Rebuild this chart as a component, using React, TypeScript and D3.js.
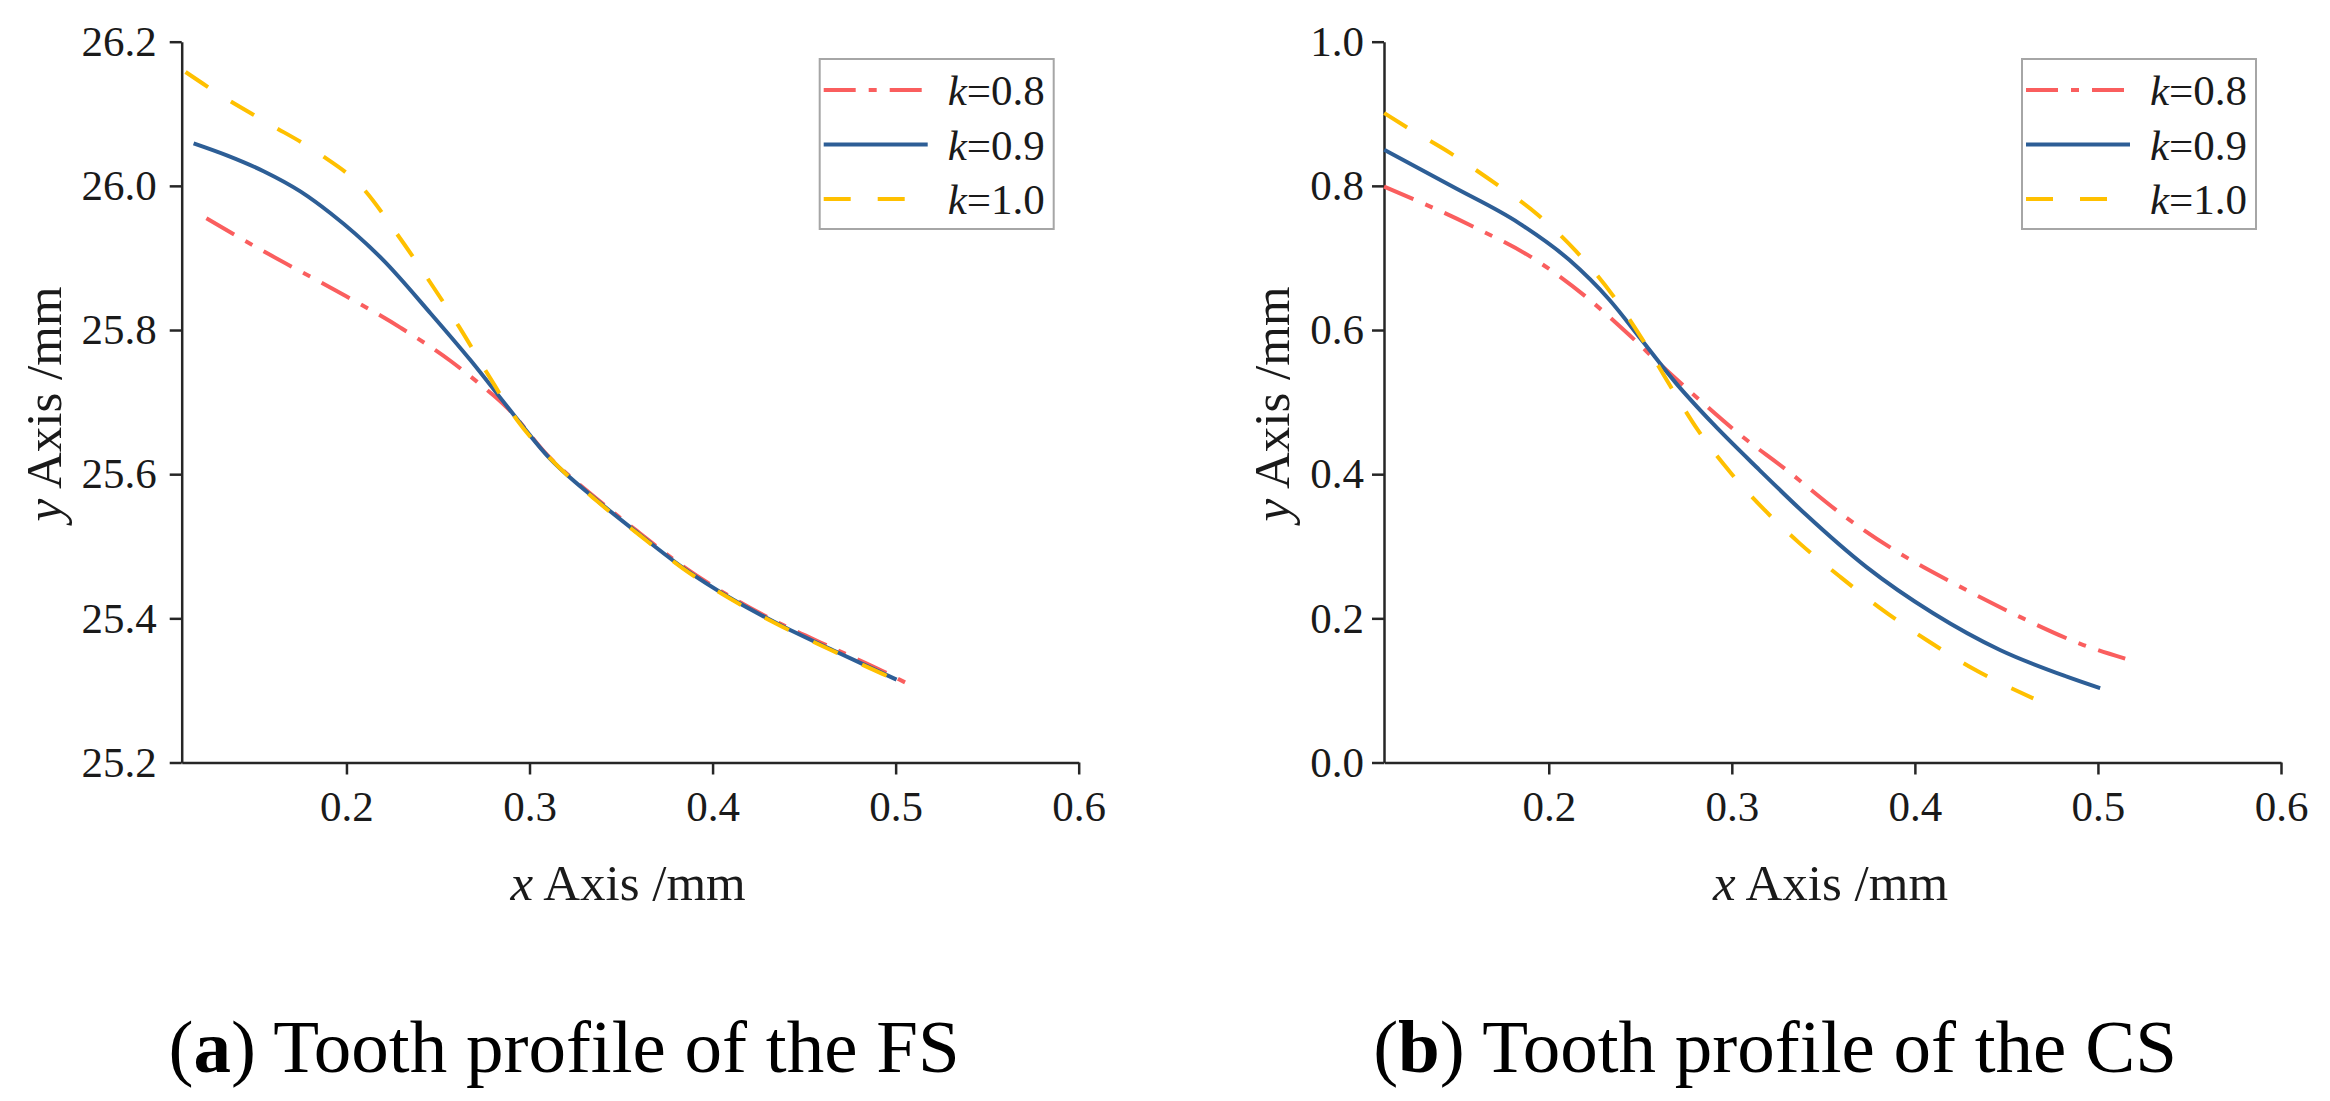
import { axisBottom, axisLeft, curveMonotoneX, format, line, scaleLinear, select } from "d3";
import { useEffect, useRef } from "react";

// tooth profile (FS), y in mm
const fsK08: Array<[number, number]> = [
  [0.1235, 25.955], [0.157, 25.906], [0.1934, 25.856], [0.2297, 25.803], [0.2569, 25.757],
  [0.2714, 25.728], [0.2878, 25.692], [0.3095, 25.627], [0.3367, 25.566], [0.3603, 25.518],
  [0.3839, 25.472], [0.4111, 25.428], [0.4383, 25.391], [0.4655, 25.359], [0.4928, 25.327],
  [0.506, 25.31],
];
const fsK09: Array<[number, number]> = [
  [0.1165, 26.059], [0.135, 26.042], [0.155, 26.02], [0.175, 25.992], [0.1913, 25.962],
  [0.2201, 25.897], [0.246, 25.823], [0.2678, 25.758], [0.2878, 25.694], [0.3095, 25.626],
  [0.3367, 25.564], [0.3603, 25.516], [0.3839, 25.47], [0.4111, 25.426], [0.4383, 25.389],
  [0.4655, 25.356], [0.4928, 25.324], [0.5005, 25.315],
];
const fsK10: Array<[number, number]> = [
  [0.1121, 26.158], [0.1299, 26.128], [0.1571, 26.087], [0.1843, 26.046], [0.2092, 25.996],
  [0.2274, 25.934], [0.2442, 25.872], [0.2614, 25.805], [0.2769, 25.74], [0.2932, 25.675],
  [0.3113, 25.622], [0.3367, 25.563], [0.3603, 25.515], [0.3839, 25.469], [0.4111, 25.425],
  [0.4383, 25.388], [0.4655, 25.355], [0.4928, 25.323], [0.499, 25.316],
];

// tooth profile (CS)
const csK08: Array<[number, number]> = [
  [0.11, 0.799], [0.1566, 0.746], [0.193, 0.697], [0.2204, 0.646], [0.244, 0.593],
  [0.2623, 0.549], [0.2824, 0.503], [0.3024, 0.459], [0.3298, 0.406], [0.3608, 0.343],
  [0.3918, 0.29], [0.4246, 0.244], [0.4574, 0.202], [0.4921, 0.163], [0.5149, 0.144],
];
const csK09: Array<[number, number]> = [
  [0.1101, 0.85], [0.1474, 0.799], [0.1839, 0.748], [0.2113, 0.697], [0.2331, 0.642],
  [0.2514, 0.584], [0.2696, 0.526], [0.2897, 0.47], [0.315, 0.406], [0.34, 0.345],
  [0.3736, 0.271], [0.41, 0.207], [0.4465, 0.156], [0.483, 0.119], [0.5012, 0.103],
];
const csK10: Array<[number, number]> = [
  [0.1101, 0.901], [0.122, 0.882], [0.1465, 0.845], [0.171, 0.803], [0.194, 0.76],
  [0.215, 0.709], [0.235, 0.648], [0.2514, 0.586], [0.266, 0.524], [0.2815, 0.461],
  [0.2997, 0.401], [0.3188, 0.348], [0.3371, 0.304], [0.359, 0.258], [0.3827, 0.211],
  [0.4064, 0.17], [0.4319, 0.13], [0.4647, 0.089],
];

const kLabels = ["0.8", "0.9", "1.0"];
const xTicks = [0.2, 0.3, 0.4, 0.5, 0.6];
const fsYTicks = [25.2, 25.4, 25.6, 25.8, 26.0, 26.2];
const csYTicks = [0.0, 0.2, 0.4, 0.6, 0.8, 1.0];

const colors = ["#FA5E5E", "#2D5E96", "#FFC000"];
const dashes = ["32 13 8 13", null, "27 27"];
const serif = "'Liberation Serif', 'Times New Roman', Times, serif";

const panels = [
  { left: 181.7, yDomain: [25.2, 26.2], yTicks: fsYTicks, series: [fsK08, fsK09, fsK10], yPad: 13, yTitleX: 61, letter: "a", name: "FS", capX: 564 },
  { left: 1384, yDomain: [0, 1], yTicks: csYTicks, series: [csK08, csK09, csK10], yPad: 8, yTitleX: 1289, letter: "b", name: "CS", capX: 1775 },
];

function drawPanel(svg: any, p: any) {
  const width = 897;
  const top = 41.7;
  const bottom = 762.5;

  const x = scaleLinear().domain([0.11, 0.6]).range([p.left, p.left + width]);
  const y = scaleLinear().domain(p.yDomain).range([bottom, top]);
  const fmt = format(".1f");

  const gx = svg.append("g")
    .attr("transform", `translate(0,${bottom})`)
    .call(axisBottom(x).tickValues(xTicks).tickSize(12).tickSizeOuter(0).tickPadding(16).tickFormat(fmt));

  const gy = svg.append("g")
    .attr("transform", `translate(${p.left},0)`)
    .call(axisLeft(y).tickValues(p.yTicks).tickSize(12).tickSizeOuter(0).tickPadding(p.yPad).tickFormat(fmt));

  [gx, gy].forEach(g => {
    g.attr("font-size", 43);
    g.selectAll("path, line").attr("stroke", "#262626").attr("stroke-width", 2.5);
    g.selectAll("text").attr("fill", "#1a1a1a").style("font-family", serif).style("font-size", "43px");
  });

  const path = line<[number, number]>()
    .x(d => x(d[0]))
    .y(d => y(d[1]))
    .curve(curveMonotoneX);

  p.series.forEach((s: Array<[number, number]>, i: number) => {
    svg.append("path")
      .datum(s)
      .attr("d", path)
      .attr("fill", "none")
      .attr("stroke", colors[i])
      .attr("stroke-width", 4)
      .attr("stroke-dasharray", dashes[i]);
  });

  // legend
  const lx = p.left + 638;
  const ly = 59;
  svg.append("rect")
    .attr("x", lx).attr("y", ly).attr("width", 234).attr("height", 170)
    .attr("fill", "#fff").attr("stroke", "#a6a6a6").attr("stroke-width", 2);

  kLabels.forEach((k, i) => {
    const ry = ly + 31 + i * 54.5;
    svg.append("line")
      .attr("x1", lx + 4).attr("x2", lx + 108).attr("y1", ry).attr("y2", ry)
      .attr("stroke", colors[i]).attr("stroke-width", 4)
      .attr("stroke-dasharray", dashes[i]);
    const t = svg.append("text")
      .attr("x", lx + 128).attr("y", ry + 15)
      .style("font-family", serif).style("font-size", "43px").attr("fill", "#1a1a1a");
    t.append("tspan").attr("font-style", "italic").text("k");
    t.append("tspan").text("=" + k);
  });

  // axis titles
  const xt = svg.append("text")
    .attr("x", p.left + width / 2 - 2).attr("y", 900)
    .attr("text-anchor", "middle")
    .style("font-family", serif).style("font-size", "51px").attr("fill", "#1a1a1a");
  xt.append("tspan").attr("font-style", "italic").text("x");
  xt.append("tspan").text(" Axis /mm");

  const yt = svg.append("text")
    .attr("transform", `translate(${p.yTitleX},404) rotate(-90)`)
    .attr("text-anchor", "middle")
    .style("font-family", serif).style("font-size", "51px").attr("fill", "#1a1a1a");
  yt.append("tspan").attr("font-style", "italic").text("y");
  yt.append("tspan").text(" Axis /mm");

  // caption
  const cap = svg.append("text")
    .attr("x", p.capX).attr("y", 1072)
    .attr("text-anchor", "middle")
    .style("font-family", serif).style("font-size", "75px").attr("fill", "#000");
  cap.append("tspan").text("(");
  cap.append("tspan").attr("font-weight", "bold").text(p.letter);
  cap.append("tspan").text(`) Tooth profile of the ${p.name}`);
}

export default function App() {
  const ref = useRef<SVGSVGElement>(null);

  useEffect(() => {
    const svg = select(ref.current);
    svg.selectAll("*").remove();
    panels.forEach(p => drawPanel(svg, p));
  }, []);

  return (
    <svg
      ref={ref}
      width={2330}
      height={1101}
      style={{ position: "absolute", left: 0, top: 0, background: "#fff" }}
    />
  );
}
